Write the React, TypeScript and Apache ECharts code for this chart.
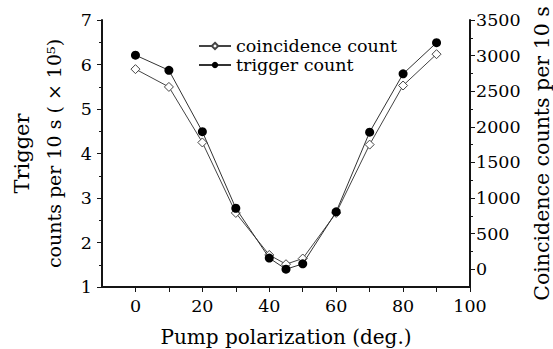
import React, { useEffect, useRef } from "react";
import * as echarts from "echarts";

const polarization = [0, 10, 20, 30, 40, 45, 50, 60, 70, 80, 90];
const triggerCounts = [6.21, 5.87, 4.49, 2.77, 1.65, 1.4, 1.52, 2.69, 4.48, 5.79, 6.49];
const coincidenceCounts = [2810, 2560, 1780, 790, 200, 70, 150, 790, 1750, 2580, 3020];
const xTicks = [0, 10, 20, 30, 40, 50, 60, 70, 80, 90, 100];
const xLabels = [0, 20, 40, 60, 80, 100];
const rightTicks = [0, 500, 1000, 1500, 2000, 2500, 3000, 3500];
const rightMinorTicks = [250, 750, 1250, 1750, 2250, 2750, 3250];

const FONT = "DejaVu Serif";
const INK = "black";

export default function App() {
  const ref = useRef<HTMLDivElement>(null);
  useEffect(() => {
    if (!ref.current) return;
    const chart = echarts.init(ref.current, null, { renderer: "svg" });
    chart.setOption({
      animation: false,
      backgroundColor: "#fff",
      grid: {
        left: 102,
        right: 83,
        top: 20,
        bottom: 62,
        containLabel: false,
        outerBoundsMode: "none",
        show: false,
      },
      legend: {
        orient: "vertical",
        left: 193,
        top: 32,
        itemWidth: 32,
        itemHeight: 8,
        itemGap: 1,
        textStyle: { color: INK, fontFamily: FONT, fontSize: 17.5 },
        data: ["coincidence count", "trigger count"],
      },
      xAxis: [
        {
          type: "value",
          position: "bottom",
          min: -10,
          max: 100,
          axisLine: { show: true, onZero: false, lineStyle: { color: "#151515", width: 2 } },
          splitLine: { show: false },
          axisTick: { show: true, length: 5, lineStyle: { color: "#151515", width: 1 }, customValues: xTicks },
          axisLabel: { color: INK, fontFamily: FONT, fontSize: 17.5, margin: 10, customValues: xLabels },
          name: "Pump polarization (deg.)",
          nameLocation: "middle",
          nameGap: 40,
          nameTextStyle: { color: INK, fontFamily: FONT, fontSize: 20 },
        },
      ],
      yAxis: [
        {
          type: "value",
          position: "left",
          min: 1,
          max: 7,
          interval: 1,
          axisLine: { show: true, onZero: false, lineStyle: { color: "#151515", width: 2 } },
          splitLine: { show: false },
          axisTick: { show: true, length: 5, lineStyle: { color: "#151515", width: 1 } },
          minorTick: { show: true, splitNumber: 2, length: 3, lineStyle: { color: "#151515", width: 1 } },
          axisLabel: { color: INK, fontFamily: FONT, fontSize: 17.5, margin: 10 },
          name: "{t|Trigger}\n{c|counts per 10 s ( × 10⁵)}",
          nameLocation: "middle",
          nameRotate: 90,
          nameGap: 32,
          nameTextStyle: {
            color: INK,
            fontFamily: FONT,
            align: "center",
            rich: {
              t: { color: INK, fontFamily: FONT, fontSize: 21, lineHeight: 32 },
              c: { color: INK, fontFamily: FONT, fontSize: 19, lineHeight: 32 },
            },
          },
        },
        {
          type: "value",
          position: "right",
          min: -250,
          max: 3500,
          axisLine: { show: true, onZero: false, lineStyle: { color: "#151515", width: 2 } },
          splitLine: { show: false },
          axisTick: { show: true, length: 5, lineStyle: { color: "#151515", width: 1 }, customValues: rightTicks },
          axisLabel: {
            color: INK,
            fontFamily: FONT,
            fontSize: 17.5,
            margin: 6,
            customValues: rightTicks,
            formatter: (v: number) => String(v),
          },
          name: "Coincidence counts per 10 s",
          nameLocation: "middle",
          nameRotate: 90,
          nameGap: 61,
          nameTextStyle: { color: INK, fontFamily: FONT, fontSize: 20.5 },
        },
        {
          type: "value",
          position: "right",
          min: -250,
          max: 3500,
          axisLine: { show: false, onZero: false },
          splitLine: { show: false },
          axisTick: { show: true, length: 3, lineStyle: { color: "#151515", width: 1 }, customValues: rightMinorTicks },
          axisLabel: { show: false },
        },
      ],
      series: [
        {
          name: "coincidence count",
          type: "line",
          yAxisIndex: 1,
          data: polarization.map((x, i) => [x, coincidenceCounts[i]]),
          symbol: "diamond",
          symbolSize: 9,
          itemStyle: { color: "#fff", borderColor: "#444", borderWidth: 1 },
          lineStyle: { color: "#444", width: 1 },
          z: 3,
        },
        {
          name: "trigger count",
          type: "line",
          yAxisIndex: 0,
          data: polarization.map((x, i) => [x, triggerCounts[i]]),
          symbol: "circle",
          symbolSize: 9,
          itemStyle: { color: "#000" },
          lineStyle: { color: "#333", width: 1 },
          z: 4,
        },
      ],
    });
    return () => chart.dispose();
  }, []);
  return <div ref={ref} style={{ width: 553, height: 349, position: "absolute", left: 0, top: 0 }} />;
}
